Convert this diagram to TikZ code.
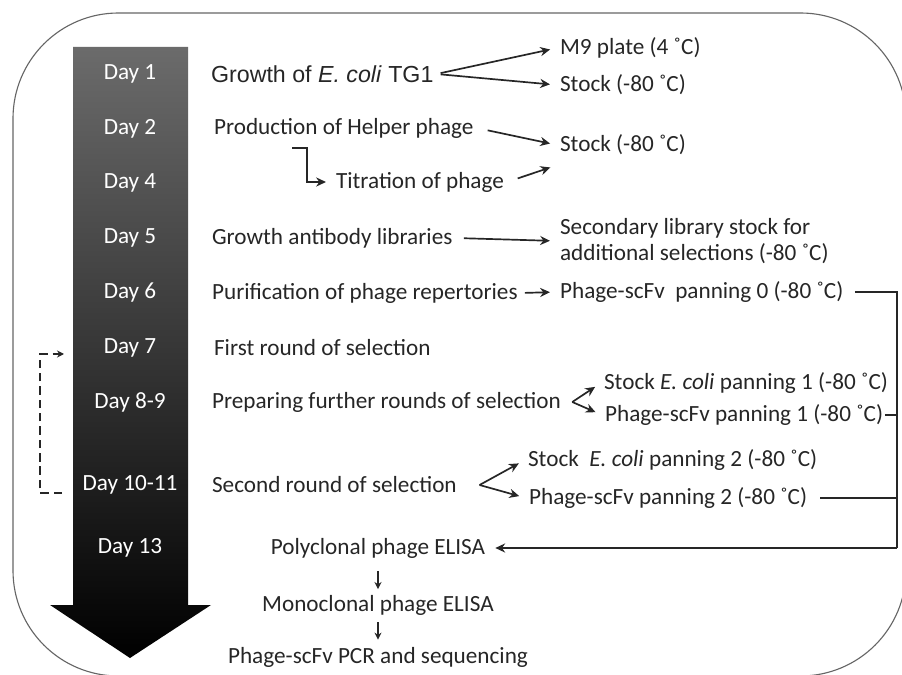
\documentclass[tikz,border=0pt]{standalone}
\usepackage{fontspec}
\setmainfont{Carlito}
\newfontfamily\arialfont{Liberation Sans}
\usetikzlibrary{arrows.meta}

\begin{document}
\begin{tikzpicture}[x=0.025cm, y=-0.025cm,
				    font=\fontsize{16.5}{19}\selectfont,
				    day/.style={text=white, inner sep=0pt},
				    task/.style={anchor=west, inner sep=2pt, text=black!85,
				    			 align=left},
				    link/.style={-{Stealth[length=7pt, width=6.5pt]}, line width=1.2pt,
				    			 black!85, shorten <=3pt, shorten >=5pt},
				    bus/.style={line width=1.2pt, black!85},
				    tick/.style={-{Stealth[length=5pt, width=5pt]}, line width=1pt,
				    			 black!85},
				    loop/.style={-{Stealth[length=5pt, width=5pt]}, line width=1.1pt,
				    			 black!85, dash pattern=on 6pt off 3.5pt}]
	\useasboundingbox (0,0) rectangle (902,675);
	\draw[black!60, line width=0.8pt, rounded corners=75] (13,13) rectangle (906,676);

	\shade[top color=black!58, middle color=black!96, bottom color=black]
		(73,47) -- (188,47) -- (188,605) -- (211,605) -- (130,658)
		-- (50,605) -- (73,605) -- cycle;

	\node[day] (d1) at (130, 74) {Day 1};
	\node[day] (d2) at (130, 129) {Day 2};
	\node[day] (d4) at (130, 183) {Day 4};
	\node[day] (d5) at (130, 238) {Day 5};
	\node[day] (d6) at (130, 293) {Day 6};
	\node[day] (d7) at (130, 348) {Day 7};
	\node[day] (d8) at (130, 402) {Day 8-9};
	\node[day] (d10) at (130, 485) {Day 10-11};
	\node[day] (d13) at (130, 548) {Day 13};

	\node[task] (u1) at (208, 74) {\arialfont Growth of \textit{E. coli} TG1};
	\node[task] (u2) at (211, 128) {Production of Helper phage};
	\node[task] (u3) at (333, 182) {Titration of phage};
	\node[task] (u4) at (209, 238) {Growth antibody libraries};
	\node[task] (u5) at (209, 293) {Purification of phage repertories};
	\node[task] (u6) at (211, 348) {First round of selection};
	\node[task] (u7) at (209, 402) {Preparing further rounds of selection};
	\node[task] (u8) at (209, 485) {Second round of selection};
	\node[task, anchor=center] (u9) at (378, 548) {Polyclonal phage ELISA};
	\node[task, anchor=center] (u10) at (378, 605) {Monoclonal phage ELISA};
	\node[task, anchor=center] (u11) at (378, 657) {Phage-scFv PCR and sequencing};

	\node[task] (v1) at (557, 48) {M9 plate (4 ˚C)};
	\node[task] (v2) at (557, 85) {Stock (-80 ˚C)};
	\node[task] (v3) at (557, 145) {Stock (-80 ˚C)};
	\node[task] (v4) at (557, 241) {Secondary library stock for\\additional selections (-80 ˚C)};
	\node[task] (v5) at (557, 292) {Phage-scFv\ \ panning 0 (-80 ˚C)};
	\node[task] (v6) at (601, 383) {Stock \textit{E. coli} panning 1 (-80 ˚C)};
	\node[task] (v7) at (602, 415) {Phage-scFv panning 1 (-80 ˚C)};
	\node[task] (v8) at (525, 460) {Stock\ \ \textit{E. coli} panning 2 (-80 ˚C)};
	\node[task] (v9) at (526, 498) {Phage-scFv panning 2 (-80 ˚C)};

	\coordinate (e1) at (292, 148);
	\coordinate (b0) at (897, 292);
	\coordinate (b1) at (897, 415);
	\coordinate (b2) at (897, 498);
	\coordinate (b3) at (897, 548);
	\coordinate (l0) at (62, 493);
	\coordinate (l1) at (64, 354);

	\path[link] 	(u1.east)  edge   (v1.west);
	\path[link] 	(u1.east)  edge   (v2.west);
	\path[link, shorten <=8pt] 	(u2.east)  edge   (v3.west);
	\path[link, shorten <=8pt] 	(u3.east)  edge   ([yshift=-5pt]v3.south west);
	\draw[link, shorten <=0pt] 	(e1) -- ++(15,0) |- (u3.west);
	\path[link, shorten <=6pt] 	(u4.east)  edge   (v4.west);
	\path[link] 	(u5.east)  edge   (v5.west);
	\path[link, shorten <=0pt] 	([xshift=6pt]u7.east)  edge   (v6.west);
	\path[link, shorten <=0pt] 	([xshift=6pt]u7.east)  edge   (v7.west);
	\path[link, shorten <=0pt] 	([xshift=14pt]u8.east)  edge   (v8.west);
	\path[link, shorten <=0pt] 	([xshift=14pt]u8.east)  edge   (v9.west);

	\draw[bus, shorten <=6pt] (v5.east) -- (b0) -- (b3);
	\draw[bus, shorten <=-1pt] (v7.east) -- (b1);
	\draw[bus, shorten <=7pt] (v9.east) -- (b2);
	\draw[link, shorten <=0pt] (b3) -- (u9.east);

	\path[tick, shorten <=7pt, shorten >=2pt] 	(u9.south)  edge   (u10.north);
	\path[tick, shorten <=3pt, shorten >=3pt] 	(u10.south)  edge   (u11.north);

	\draw[loop] (l0) -| (40, 354) -- (l1);
\end{tikzpicture}
\end{document}
